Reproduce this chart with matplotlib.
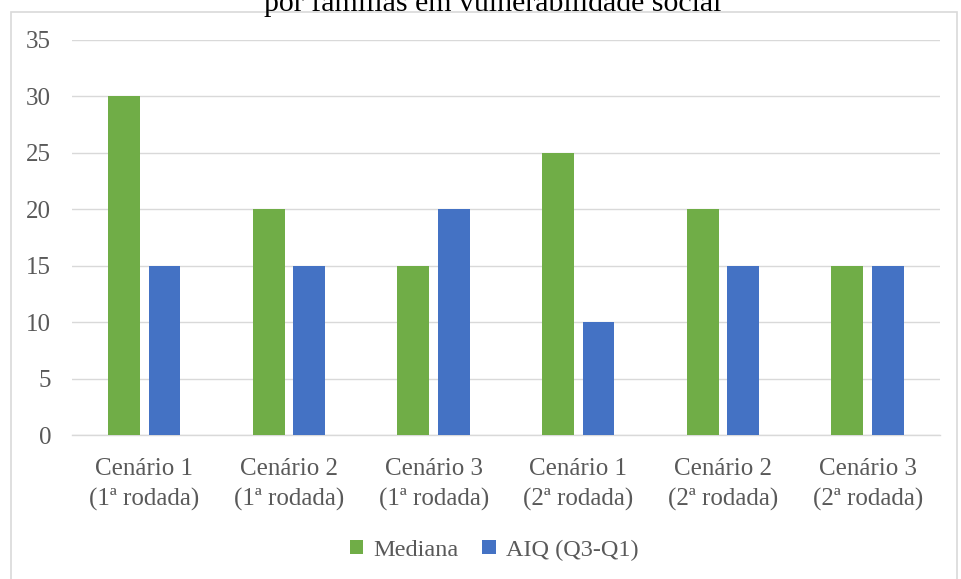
import matplotlib
matplotlib.use("Agg")
import matplotlib.pyplot as plt
import numpy as np
from matplotlib.patches import Rectangle

categories = ["Cenário 1\n(1ª rodada)", "Cenário 2\n(1ª rodada)", "Cenário 3\n(1ª rodada)",
              "Cenário 1\n(2ª rodada)", "Cenário 2\n(2ª rodada)", "Cenário 3\n(2ª rodada)"]
mediana = [30, 20, 15, 25, 20, 15]
aiq = [15, 15, 20, 10, 15, 15]
yticks = [0, 5, 10, 15, 20, 25, 30, 35]

plt.rcParams['font.family'] = ['Liberation Serif', 'DejaVu Serif']
gray = '#595959'

W, H = 961, 579
fig = plt.figure(figsize=(W/100, H/100), dpi=100)
ax = fig.add_axes([72/W, 1-435/H, (940-72)/W, (435-40)/H])

x = np.arange(len(categories))
bw = 0.22
ax.bar(x - 0.14, mediana, bw, color='#70AD47', label='Mediana', zorder=3)
ax.bar(x + 0.14, aiq, bw, color='#4472C4', label='AIQ (Q3-Q1)', zorder=3)

ax.set_xlim(-0.5, len(categories) - 0.5)
ax.set_ylim(0, 35)
ax.set_yticks(yticks)
ax.set_yticklabels([str(v) for v in yticks])
ax.set_xticks(x)
ax.set_xticklabels(categories, linespacing=1.45)
ax.tick_params(axis='both', length=0, labelsize=18, colors=gray)
ax.tick_params(axis='x', pad=16.5)
ax.tick_params(axis='y', pad=15)
ax.yaxis.grid(True, color='#d9d9d9', linewidth=1, zorder=0)
for s in ['top', 'right', 'left']:
    ax.spines[s].set_visible(False)
ax.spines['bottom'].set_color('#d9d9d9')
ax.spines['bottom'].set_linewidth(1)

# outer chart border
fig.patches.append(Rectangle((11/W, -0.01), (957-11)/W, 1 - 12/H + 0.01,
                             transform=fig.transFigure, fill=False,
                             edgecolor='#d9d9d9', linewidth=1.2))

# clipped title second line
fig.text(493/W, 1 - 11/H, "por famílias em vulnerabilidade social",
         ha='center', va='baseline', fontsize=21.5, color='black')

leg = fig.legend(loc='center', bbox_to_anchor=(494/W, 1 - 550/H), ncol=2,
                 frameon=False, fontsize=17.5, handlelength=0.55, handleheight=0.55,
                 handletextpad=0.4, columnspacing=1.0)
for t in leg.get_texts():
    t.set_color(gray)

fig.savefig('out.png', dpi=100)
